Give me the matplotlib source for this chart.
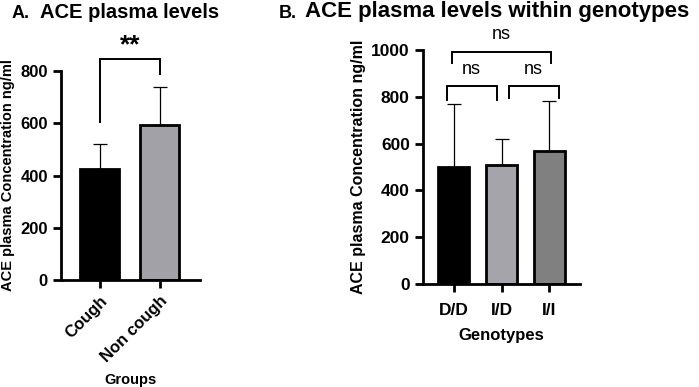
import matplotlib.pyplot as plt
import numpy as np

plt.rcParams['font.family'] = ['Liberation Sans', 'DejaVu Sans']
plt.rcParams['font.weight'] = 'bold'

# panel A
groups = ["Cough", "Non cough"]
group_means = [425, 594]
group_err = [97, 145]
group_colors = ["#000000", "#a2a1a8"]

# panel B
genotypes = ["D/D", "I/D", "I/I"]
geno_means = [501, 508, 570]
geno_err = [268, 113, 213]
geno_colors = ["#000000", "#a5a4ab", "#808080"]

fig = plt.figure(figsize=(6.99, 3.87), dpi=100)


def style_axes(ax, size):
    for s in ["top", "right"]:
        ax.spines[s].set_visible(False)
    for s in ["left", "bottom"]:
        ax.spines[s].set_linewidth(2)
    ax.tick_params(width=2, length=6, labelsize=size)
    for t in ax.get_yticklabels():
        t.set_fontweight('bold')


def bracket(ax, x1, x2, y, y1, y2, text, ty, **kw):
    ax.plot([x1, x1, x2, x2], [y1, y, y, y2], color="black", lw=1.4,
            clip_on=False, solid_joinstyle='miter')
    ax.text((x1 + x2) / 2, ty, text, ha="center", va="center", clip_on=False, **kw)


# ---- A ----
axA = fig.add_axes([61 / 699, 1 - 280 / 387, 139 / 699, 209 / 387])
xa = np.arange(len(groups))
axA.bar(xa, group_means, width=0.65, color=group_colors, edgecolor="black", linewidth=2)
axA.errorbar(xa, group_means, yerr=[[0, 0], group_err], fmt="none", ecolor="black",
             elinewidth=0.9, capsize=4.7, capthick=0.9, clip_on=False)
axA.set_xlim(-0.65, 1.67)
axA.set_ylim(0, 800)
axA.set_yticks([0, 200, 400, 600, 800])
axA.set_xticks(xa)
axA.set_xticklabels(groups, rotation=45, ha="right", rotation_mode="anchor",
                    fontsize=11, fontweight="bold")
style_axes(axA, 12)
axA.set_ylabel("ACE plasma Concentration ng/ml", fontsize=10.5, fontweight="bold", labelpad=4)
axA.set_xlabel("Groups", fontsize=10.5, fontweight="bold", labelpad=6)
bracket(axA, 0, 1, 845, 605, 788, "**", 900, fontsize=19, fontweight="bold")

# ---- B ----
axB = fig.add_axes([423 / 699, 1 - 284 / 387, 157 / 699, 234 / 387])
xb = np.arange(len(genotypes))
axB.bar(xb, geno_means, width=0.65, color=geno_colors, edgecolor="black", linewidth=2)
axB.errorbar(xb, geno_means, yerr=[[0] * 3, geno_err], fmt="none", ecolor="black",
             elinewidth=0.9, capsize=4.7, capthick=0.9, clip_on=False)
axB.set_xlim(-0.65, 2.65)
axB.set_ylim(0, 1000)
axB.set_yticks([0, 200, 400, 600, 800, 1000])
axB.set_xticks(xb)
axB.set_xticklabels(genotypes, fontsize=13, fontweight="bold")
style_axes(axB, 12.5)
axB.tick_params(axis="x", pad=8)
axB.set_ylabel("ACE plasma Concentration ng/ml", fontsize=11.5, fontweight="bold", labelpad=4)
axB.set_xlabel("Genotypes", fontsize=12, fontweight="bold", labelpad=7)
bracket(axB, -0.05, 2.05, 993, 943, 943, "ns", 1068, fontsize=13, fontweight="normal")
bracket(axB, -0.15, 0.9, 846, 786, 786, "ns", 918, fontsize=13, fontweight="normal")
bracket(axB, 1.15, 2.2, 846, 796, 796, "ns", 918, fontsize=13, fontweight="normal")

fig.text(12 / 699, 1 - 13 / 387, "A.", fontsize=13, fontweight="bold", va="center", ha="left")
fig.text(40 / 699, 1 - 12 / 387, "ACE plasma levels", fontsize=14.5, fontweight="bold",
         va="center", ha="left")
fig.text(279 / 699, 1 - 13 / 387, "B.", fontsize=13, fontweight="bold", va="center", ha="left")
fig.text(305 / 699, 1 - 12 / 387, "ACE plasma levels within genotypes", fontsize=16,
         fontweight="bold", va="center", ha="left")

fig.savefig("out.png", dpi=100)
